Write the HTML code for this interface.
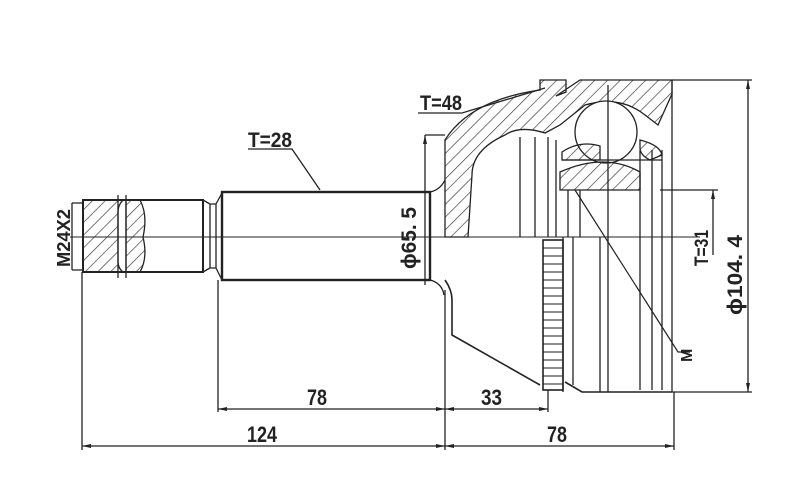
<!DOCTYPE html>
<html><head><meta charset="utf-8"><style>
html,body{margin:0;padding:0;background:#fff}
svg{display:block}
text{font-family:"Liberation Sans",sans-serif;font-weight:bold;fill:#222}
</style></head><body>
<svg width="806" height="503" viewBox="0 0 806 503" xmlns="http://www.w3.org/2000/svg">
<defs>
<pattern id="h" width="9" height="9" patternUnits="userSpaceOnUse" patternTransform="rotate(45)">
<line x1="0" y1="0" x2="0" y2="9" stroke="#333" stroke-width="1.3"/>
</pattern>
</defs>
<g stroke="#222" fill="none" stroke-width="1.3">
<line x1="70" y1="237" x2="700" y2="237" stroke-width="1"/>
<!-- stub -->
<rect x="83" y="200" width="120" height="72" stroke-width="2"/>
<path d="M83 200 H123 Q118 205 118 212 V262 Q118 268 123 272 H83 Z" fill="url(#h)"/>
<path d="M126 200 H140 Q148 215 143 237 Q148 258 140 272 H126 Z" fill="url(#h)"/>
<line x1="118" y1="195" x2="118" y2="278"/>
<line x1="126" y1="195" x2="126" y2="278"/>
<path d="M72 203 H83 M72 270 H83 M72 203 V270"/>
<path d="M203 200 L210 204 V268 L203 272 M210 204 H216 V268 H210 M216 204 L222 193 M216 268 L222 280"/>
<!-- main shaft -->
<rect x="222" y="192" width="208" height="88" stroke-width="2.4"/>
<path d="M430 192 Q440 190 445 180 M430 280 Q442 283 444 295"/>
<!-- bell hatched upper -->
<path d="M445 237 V140 Q470 100 540 90 V80 L566 80 V92 L556 96 L580 80 H672 V94 L658 125 L645 115 Q620 95 585 105 L560 125 L545 133 Q520 125 505 135 Q472 150 472 175 L468 237 Z" fill="url(#h)"/>
<path d="M520 137 V237 M535 137 V237 M548 137 V237 M556 140 V237"/>
<!-- ball -->
<circle cx="606" cy="132" r="31" fill="#fff"/>
<path d="M562 152 Q580 140 600 146 L600 160 H562 Z M640 140 Q660 145 662 155 L650 160 Q640 155 640 148 Z" fill="url(#h)"/>
<path d="M560 172 Q605 152 640 172 V190 H560 Z" fill="url(#h)"/>
<path d="M562 160 H662 M568 190 V237 M580 190 V237 M640 150 V390 M652 150 V390 M662 150 V390 M672 80 V392"/>
<line x1="608" y1="85" x2="608" y2="392"/>
<!-- lower bell -->
<path d="M445 280 Q452 290 452 300 V335 L540 385 M565 382 L582 392 H672" stroke-width="1.6"/>
<path d="M563 237 V392 M573 237 V385 M600 237 V392"/>
<!-- ABS ring -->
<rect x="543" y="240" width="20" height="150" stroke-width="1.6"/>
<g stroke-width="1">
<path d="M543 248H563M543 256H563M543 264H563M543 272H563M543 280H563M543 288H563M543 296H563M543 304H563M543 312H563M543 320H563M543 328H563M543 336H563M543 344H563M543 352H563M543 360H563M543 368H563M543 376H563M543 384H563"/>
</g>
<!-- leaders -->
<path d="M248 149 H292 L320 190"/>
<path d="M418 113 H462 L545 88"/>
<path d="M575 190 L678 352 H690" stroke-width="1.2"/>
<!-- dim lines -->
<line x1="425" y1="135" x2="425" y2="285"/>
<line x1="425" y1="135" x2="445" y2="135"/>
<line x1="713" y1="190" x2="713" y2="255"/>
<line x1="660" y1="190" x2="718" y2="190"/>
<line x1="748" y1="80" x2="748" y2="392"/>
<line x1="672" y1="80" x2="752" y2="80"/>
<line x1="672" y1="392" x2="752" y2="392"/>
<line x1="82" y1="272" x2="82" y2="450"/>
<line x1="218" y1="280" x2="218" y2="412"/>
<line x1="445" y1="290" x2="445" y2="450"/>
<line x1="548" y1="390" x2="548" y2="412"/>
<line x1="674" y1="392" x2="674" y2="450"/>
<line x1="218" y1="409" x2="548" y2="409"/>
<line x1="82" y1="446" x2="674" y2="446"/>
</g>
<g fill="#222">
<path d="M218 409 l9 -2 v4z M445 409 l-9 -2 v4z M445 409 l9 -2 v4z M548 409 l-9 -2 v4z"/>
<path d="M82 446 l9 -2 v4z M445 446 l-9 -2 v4z M445 446 l9 -2 v4z M674 446 l-9 -2 v4z"/>
<path d="M748 80 l-2 9 h4z M748 392 l-2 -9 h4z M425 135 l-2 9 h4z M713 190 l-2 9 h4z"/>
</g>
<text x="248" y="147" font-size="21" textLength="44" lengthAdjust="spacingAndGlyphs">T=28</text>
<text x="420" y="110" font-size="21" textLength="42" lengthAdjust="spacingAndGlyphs">T=48</text>
<text x="307" y="405" font-size="22" textLength="20" lengthAdjust="spacingAndGlyphs">78</text>
<text x="481" y="405" font-size="22" textLength="21" lengthAdjust="spacingAndGlyphs">33</text>
<text x="247" y="442" font-size="22" textLength="30" lengthAdjust="spacingAndGlyphs">124</text>
<text x="547" y="442" font-size="22" textLength="20" lengthAdjust="spacingAndGlyphs">78</text>
<text transform="translate(70,237) rotate(-90)" x="-30" y="0" font-size="18" textLength="58" lengthAdjust="spacingAndGlyphs">M24X2</text>
<text transform="translate(416,237) rotate(-90)" x="-32" y="0" font-size="21" textLength="62" lengthAdjust="spacingAndGlyphs">ϕ65. 5</text>
<text transform="translate(708,250) rotate(-90)" x="-16" y="0" font-size="19" textLength="36" lengthAdjust="spacingAndGlyphs">T=31</text>
<text transform="translate(742,275) rotate(-90)" x="-40" y="0" font-size="21" textLength="80" lengthAdjust="spacingAndGlyphs">ϕ104. 4</text>
<text transform="translate(692,352) rotate(-90)" x="-10" y="0" font-size="16">M</text>
</svg>
</body></html>
